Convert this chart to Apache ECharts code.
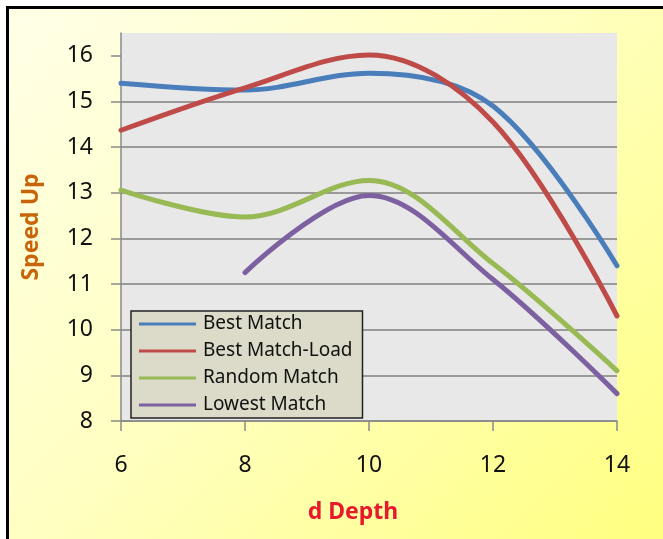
<!DOCTYPE html>
<html>
<head>
<meta charset="utf-8">
<script src="https://cdn.jsdelivr.net/npm/echarts@6/dist/echarts.min.js"></script>
<style>
  html, body { margin: 0; padding: 0; background: #ffffff; overflow: hidden; }
  #frame { position: absolute; left: 6px; top: 6px; width: 690px; height: 570px;
    border: 3px solid #000;
    background: linear-gradient(135deg, #ffffe8 0%, #ffffc0 45%, #ffff78 100%); }
  #chart { position: absolute; left: 0; top: 0; width: 663px; height: 539px; }
</style>
</head>
<body>
<div id="frame"></div>
<div id="chart"></div>
<script>
const depths = [6, 8, 10, 12, 14];
const yTicks = [8, 9, 10, 11, 12, 13, 14, 15, 16];
const seriesNames = ['Best Match', 'Best Match-Load', 'Random Match', 'Lowest Match'];
const bestMatch = [15.4, 15.25, 15.62, 14.9, 11.4];
const bestMatchLoad = [14.37, 15.3, 16.02, 14.55, 10.3];
const randomMatch = [13.06, 12.47, 13.27, 11.45, 9.1];
const lowestMatch = [null, 11.25, 12.94, 11.1, 8.6];
const colors = ['#4a7ebb', '#be4b48', '#98b954', '#7d60a0'];

const allValues = [bestMatch, bestMatchLoad, randomMatch, lowestMatch];
function pairs(vals) {
  const out = [];
  depths.forEach((d, i) => { if (vals[i] != null) out.push([d, vals[i]]); });
  return out;
}

const font = 'Noto Sans';
const chart = echarts.init(document.getElementById('chart'));
chart.setOption({
  backgroundColor: 'transparent',
  animation: false,
  grid: { left: 121, right: 46, top: 33, bottom: 118, show: true,
          backgroundColor: '#e8e8e8', borderWidth: 0 },
  legend: {
    orient: 'vertical', left: 131, top: 311,
    icon: 'rect', itemWidth: 57, itemHeight: 3, itemGap: 7,
    padding: [3, 10, 3, 8],
    backgroundColor: '#dcdac8', borderColor: '#222', borderWidth: 1.5,
    textStyle: { fontFamily: font, fontSize: 19, color: '#111', lineHeight: 20, padding: [0, 0, 0, 2] },
    data: seriesNames
  },
  xAxis: {
    type: 'value', min: 6, max: 14, interval: 2,
    name: 'd Depth', nameLocation: 'middle', nameGap: 80,
    nameTextStyle: { fontFamily: font, fontSize: 23, fontWeight: 'bold', color: '#e8192c', padding: [0, 32, 0, 0] },
    axisLine: { show: true, lineStyle: { color: '#8a8a8a', width: 1.5 } },
    axisTick: { show: true, length: 10, lineStyle: { color: '#8a8a8a', width: 1.5 } },
    axisLabel: { fontFamily: font, fontSize: 23, color: '#111', margin: 33 },
    splitLine: { show: false }
  },
  yAxis: {
    type: 'value', min: 8, max: 16.5, interval: 1,
    name: 'Speed Up', nameLocation: 'middle', nameGap: 78,
    nameTextStyle: { fontFamily: font, fontSize: 23, fontWeight: 'bold', color: '#c8650a' },
    axisLine: { show: true, lineStyle: { color: '#8a8a8a', width: 1.5 } },
    axisTick: { show: true, length: 10, customValues: yTicks, lineStyle: { color: '#8a8a8a', width: 1.5 } },
    axisLabel: { fontFamily: font, fontSize: 23, color: '#111', margin: 28, customValues: yTicks },
    splitLine: { show: true, showMaxLine: false, lineStyle: { color: '#9a9a9a', width: 2 } }
  },
  series: seriesNames.map((n, i) => ({
    name: n, type: 'line', smooth: 0.35, showSymbol: false, symbol: 'none',
    data: pairs(allValues[i]),
    lineStyle: { color: colors[i], width: 5, cap: 'round' },
    itemStyle: { color: colors[i] },
    z: 3
  }))
});
</script>
</body>
</html>
